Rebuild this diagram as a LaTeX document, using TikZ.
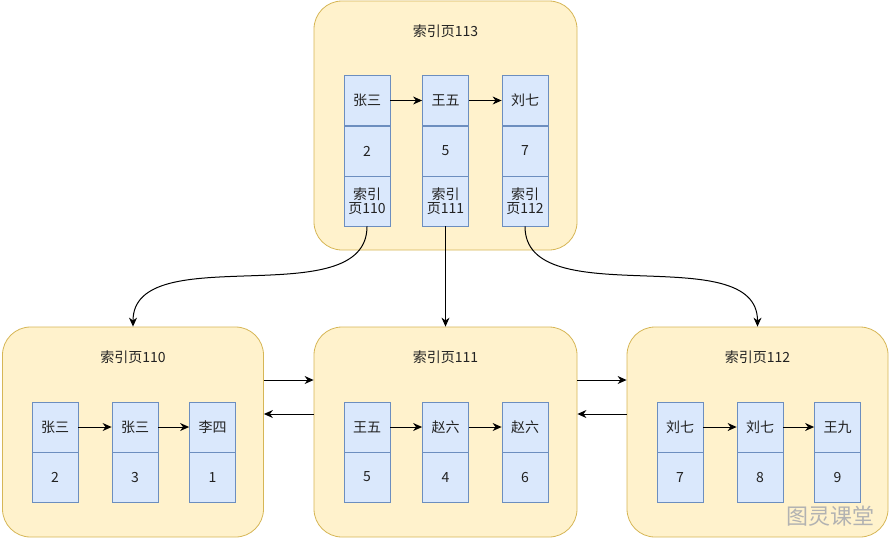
\documentclass[tikz,border=0pt]{standalone}
\usepackage{fontspec}
\setmainfont{Noto Sans CJK SC}
\usetikzlibrary{arrows.meta}
\definecolor{pagefill}{HTML}{FFF2CC}
\definecolor{pageline}{HTML}{D6B656}
\definecolor{cellfill}{HTML}{DAE8FC}
\definecolor{cellline}{HTML}{6C8EBF}
\definecolor{txt}{HTML}{222222}
\begin{document}
\begin{tikzpicture}[x=1pt, y=-1pt, font=\fontsize{14}{16}\selectfont, text=txt,
  page/.style={draw=pageline, fill=pagefill, rounded corners=28pt, line width=0.8pt, inner sep=0pt},
  cell/.style={draw=cellline, fill=cellfill, line width=0.8pt, minimum width=46pt, minimum height=50pt, inner sep=0pt, align=center},
  link/.style={-{Stealth[length=9pt,width=8pt]}, line width=1pt, black}]
  \useasboundingbox (0,0) rectangle (890,539);

  % Paginas
  \node[page, minimum width=263pt, minimum height=249pt] (p113) at (445.5,125.5) {};
  \node[page, minimum width=261pt, minimum height=210pt] (p110) at (133,432) {};
  \node[page, minimum width=263pt, minimum height=210pt] (p111) at (445.5,432) {};
  \node[page, minimum width=261pt, minimum height=210pt] (p112) at (757.5,432) {};

  % Titulos
  \node (h113) at (445.5,31) {索引页113};
  \node (h110) at (133,357) {索引页110};
  \node (h111) at (445.5,357) {索引页111};
  \node (h112) at (757.5,357) {索引页112};

  % Pagina 113 (raiz)
  \node[cell] (ra1) at (367,100.5) {张三};
  \node[cell] (rb1) at (367,151) {2};
  \node[cell] (rc1) at (367,201) {索引\\[-2pt]页110};
  \node[cell] (ra2) at (445.5,100.5) {王五};
  \node[cell] (rb2) at (445.5,151) {5};
  \node[cell] (rc2) at (445.5,201) {索引\\[-2pt]页111};
  \node[cell] (ra3) at (525,100.5) {刘七};
  \node[cell] (rb3) at (525,151) {7};
  \node[cell] (rc3) at (525,201) {索引\\[-2pt]页112};

  % Pagina 110
  \node[cell] (la1) at (55,427) {张三};
  \node[cell] (lb1) at (55,477) {2};
  \node[cell] (la2) at (135,427) {张三};
  \node[cell] (lb2) at (135,477) {3};
  \node[cell] (la3) at (212.5,427) {李四};
  \node[cell] (lb3) at (212.5,477) {1};

  % Pagina 111
  \node[cell] (ma1) at (367,427) {王五};
  \node[cell] (mb1) at (367,477) {5};
  \node[cell] (ma2) at (445.5,427) {赵六};
  \node[cell] (mb2) at (445.5,477) {4};
  \node[cell] (ma3) at (525,427) {赵六};
  \node[cell] (mb3) at (525,477) {6};

  % Pagina 112
  \node[cell] (sa1) at (680,427) {刘七};
  \node[cell] (sb1) at (680,477) {7};
  \node[cell] (sa2) at (760,427) {刘七};
  \node[cell] (sb2) at (760,477) {8};
  \node[cell] (sa3) at (837.5,427) {王九};
  \node[cell] (sb3) at (837.5,477) {9};

  % Enlaces dentro de las paginas
  \draw[link] (ra1) -- (ra2);
  \draw[link] (ra2) -- (ra3);
  \draw[link] (la1) -- (la2);
  \draw[link] (la2) -- (la3);
  \draw[link] (ma1) -- (ma2);
  \draw[link] (ma2) -- (ma3);
  \draw[link] (sa1) -- (sa2);
  \draw[link] (sa2) -- (sa3);

  % Punteros a las hojas
  \draw[link] (rc1.south) to[out=-90, in=90, looseness=0.9] (p110.north);
  \draw[link] (rc2.south) -- (p111.north);
  \draw[link] (rc3.south) to[out=-90, in=90, looseness=0.9] (p112.north);

  % Lista doble entre hojas
  \draw[link] (p110.east |- 0,380) -- (p111.west |- 0,380);
  \draw[link] (p111.west |- 0,414) -- (p110.east |- 0,414);
  \draw[link] (p111.east |- 0,380) -- (p112.west |- 0,380);
  \draw[link] (p112.west |- 0,414) -- (p111.east |- 0,414);

  % Marca de agua
  \node[text=black!30, font=\fontsize{22}{24}\selectfont] (wm) at (830,516) {图灵课堂};
\end{tikzpicture}
\end{document}
